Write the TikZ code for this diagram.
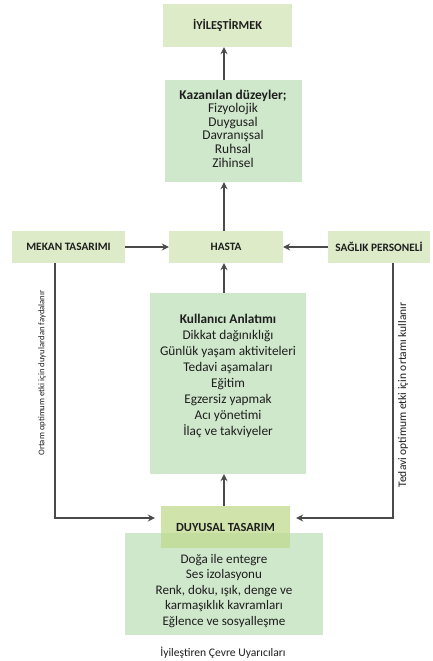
\documentclass[tikz,border=0pt]{standalone}
\usepackage{fontspec}
\setmainfont{Carlito}
\usetikzlibrary{arrows.meta}
\definecolor{hdr}{HTML}{DDEBC9}
\definecolor{mint}{HTML}{CFE8CB}
\definecolor{duy}{HTML}{BFDA90}
\definecolor{ln}{HTML}{4A4A4A}
\definecolor{tx}{HTML}{1E1E1E}
\begin{document}
\begin{tikzpicture}[x=1pt,y=-1pt,
 box/.style={draw=none,inner sep=0pt,rectangle},
 conn/.style={draw=ln,line width=1.1pt,-{Stealth[length=7pt,width=7pt,inset=2.5pt]}},
 hdrtxt/.style={font=\bfseries\fontsize{11.3}{12}\selectfont,text=tx},
 body/.style={align=center,text=tx,inner sep=0pt},
 vtxt/.style={rotate=90,text=tx,inner sep=0pt}]
\useasboundingbox (0,0) rectangle (432,661);
\fill[white] (0,0) rectangle (432,661);
% boxes
\node[box,fill=hdr,minimum width=129pt,minimum height=43pt] (iyi) at (227.5,25.5) {};
\node[box,fill=mint,minimum width=137pt,minimum height=102pt] (kaz) at (233.5,131) {};
\node[box,fill=hdr,minimum width=113pt,minimum height=32pt] (mek) at (68.5,247) {};
\node[box,fill=hdr,minimum width=114pt,minimum height=32pt] (has) at (226,247) {};
\node[box,fill=hdr,minimum width=102pt,minimum height=32pt] (sag) at (379,247) {};
\node[box,fill=mint,minimum width=156pt,minimum height=181pt] (kul) at (228,383.5) {};
\node[box,fill=mint,minimum width=198pt,minimum height=102pt] (alt) at (224,584) {};
\node[box,fill=duy,fill opacity=0.75,minimum width=129pt,minimum height=42pt] (duy) at (225.5,527) {};
% texts
\node[hdrtxt,font=\bfseries\fontsize{12.2}{13}\selectfont] (tiyi) at (iyi) {İYİLEŞTİRMEK};
\node[hdrtxt] (tmek) at (mek) {MEKAN TASARIMI};
\node[hdrtxt] (thas) at (has) {HASTA};
\node[hdrtxt] (tsag) at (sag) {SAĞLIK PERSONELİ};
\node[hdrtxt,font=\bfseries\fontsize{12.4}{13}\selectfont] (tduy) at (duy) {DUYUSAL TASARIM};
\node[body,font=\fontsize{13.4}{13.6}\selectfont] (tkaz) at (233,128.5)
 {\textbf{Kazanılan düzeyler;}\\Fizyolojik\\Duygusal\\Davranışsal\\Ruhsal\\Zihinsel};
\node[body,font=\fontsize{13.3}{16}\selectfont] (tkul) at (228,376)
 {\textbf{Kullanıcı Anlatımı}\\Dikkat dağınıklığı\\Günlük yaşam aktiviteleri\\Tedavi aşamaları\\Eğitim\\Egzersiz yapmak\\Acı yönetimi\\İlaç ve takviyeler};
\node[body,font=\fontsize{13.1}{15.5}\selectfont] (talt) at (224,591)
 {Doğa ile entegre\\Ses izolasyonu\\Renk, doku, ışık, denge ve\\karmaşıklık kavramları\\Eğlence ve sosyalleşme};
\node[body,font=\fontsize{11.6}{12}\selectfont] (cap) at (223,653) {İyileştiren Çevre Uyarıcıları};
\node[vtxt,font=\fontsize{8.7}{10}\selectfont] (vl) at (42,373) {Ortam optimum etki için duyulardan faydalanır};
\node[vtxt,font=\fontsize{11.5}{12}\selectfont] (vr) at (403,395) {Tedavi optimum etki için ortamı kullanır};
% connectors
\coordinate (ax) at (224,0);
\draw[conn] (kaz.north -| ax) -- (iyi.south -| ax);
\draw[conn] (has.north -| ax) -- (kaz.south -| ax);
\draw[conn] (kul.north -| ax) -- (has.south -| ax);
\draw[conn] (duy.north -| ax) -- (kul.south -| ax);
\draw[conn] (mek.east) -- (has.west);
\draw[conn] (sag.west) -- (has.east);
\coordinate (lc) at (55,518);
\coordinate (rc) at (393,518);
\draw[conn,shorten >=6pt] (mek.south -| lc) -- (lc) -- (duy.west |- lc);
\draw[conn,shorten >=6pt] (sag.south -| rc) -- (rc) -- (duy.east |- rc);
\end{tikzpicture}
\end{document}
